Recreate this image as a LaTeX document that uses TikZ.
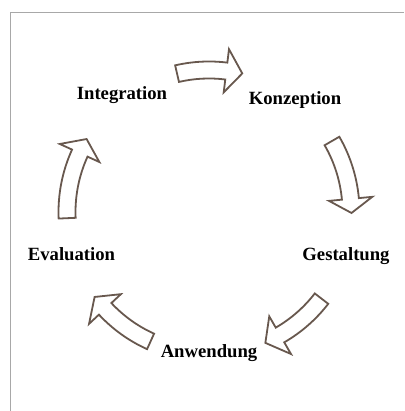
\documentclass[tikz,border=0pt]{standalone}
\usepackage{fontspec}
\setmainfont{Liberation Serif}
\begin{document}
\begin{tikzpicture}[x=1pt,y=1pt,
  arr/.style={draw={rgb,255:red,104;green,88;blue,78}, line width=1.8pt, fill=white, line join=miter},
  lbl/.style={font=\bfseries\fontsize{18.67}{20}\selectfont, anchor=base, inner sep=0pt},
  frame/.style={draw={rgb,255:red,168;green,168;blue,168}, line width=1pt}]
\useasboundingbox (0,0) rectangle (404,411);
\draw[frame] (10,0) -- (10,398) -- (404,398);
\coordinate (O) at (209,199);
% radii
\def\ri{133.5}\def\ro{150.5}\def\Ri{120.5}\def\Ro{164}\def\rm{142.5}
\newcommand{\cyclearrow}[3]{%
  \draw[arr,shift={(O)}] (#1:\ro) arc[start angle=#1, end angle=#2, radius=\ro]
    -- (#2:\Ro) -- (#3:\rm) -- (#2:\Ri) -- (#2:\ri)
    arc[start angle=#2, end angle=#1, radius=\ri] -- cycle;}
\cyclearrow{103}{83}{76.5}
\cyclearrow{30}{5.3}{-0.4}
\cyclearrow{-37.6}{-60}{-66.7}
\cyclearrow{-114.3}{-137}{-143.4}
\cyclearrow{182.5}{155.5}{149.2}
\node[lbl] (int) at (122,311.5) {Integration};
\node[lbl] (kon) at (295,306.5) {Konzeption};
\node[lbl] (ges) at (346,150.5) {Gestaltung};
\node[lbl] (anw) at (209,53) {Anwendung};
\node[lbl] (eva) at (71.5,150.5) {Evaluation};
\end{tikzpicture}
\end{document}
